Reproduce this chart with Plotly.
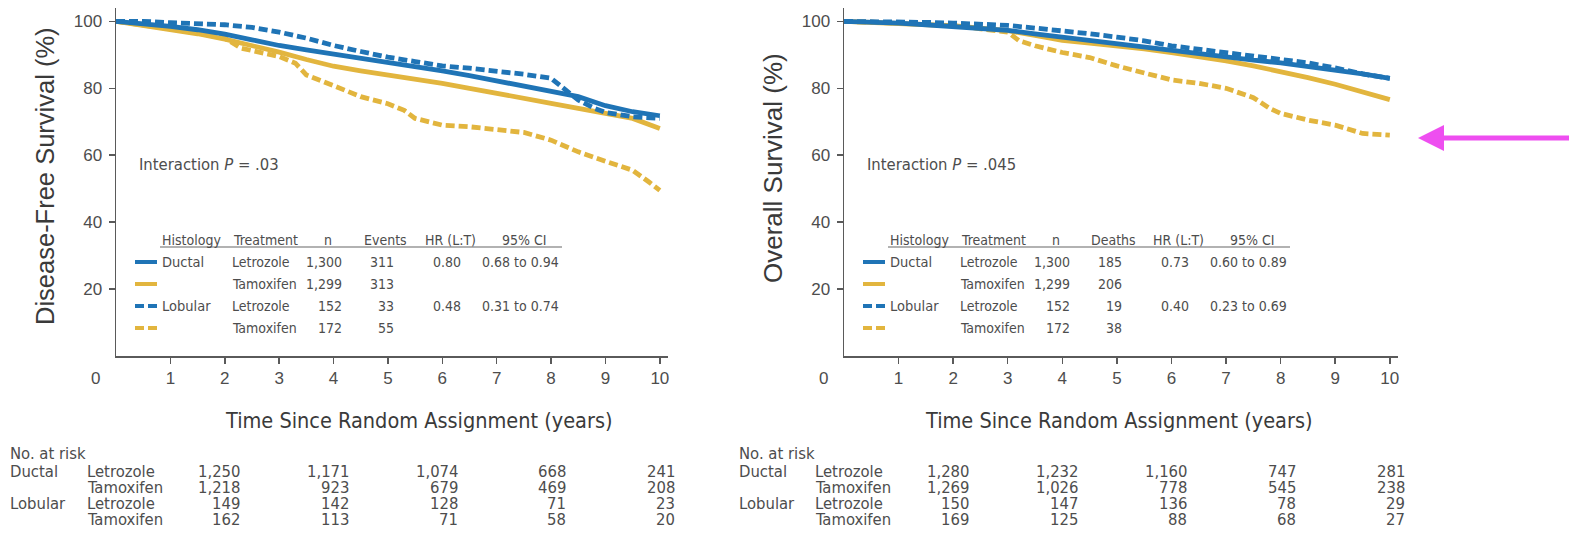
import plotly.graph_objects as go

W, H = 1569, 542
BLUE = "#1f74b6"
GOLD = "#e2b53e"
TXT = "#4d4d4d"
NARROW = "Liberation Sans Narrow, DejaVu Sans Condensed, Arial Narrow, sans-serif"
REG = "Liberation Sans, Arial, Helvetica, sans-serif"

# ---------------- data: Disease-free survival (left) ----------------
grid = [0, 0.5, 1, 1.5, 2, 2.5, 3, 3.5, 4, 4.5, 5, 5.5, 6, 6.5, 7, 7.5, 8, 8.5, 9, 9.5, 10]
dfs_duct_let = [100, 99.3, 98.5, 97.5, 96.2, 94.5, 92.8, 91.5, 90.3, 89, 87.8, 86.5, 85.2, 83.8, 82.3, 80.8, 79.3, 77.5, 74.8, 73, 71.8]
dfs_duct_tam = [100, 98.8, 97.8, 96.3, 94.7, 92.8, 90.8, 88.6, 86.6, 85.2, 84, 82.8, 81.5, 80, 78.6, 77, 75.5, 74, 72.6, 71, 68]
dfs_lob_let_t = [0, 0.5, 1, 1.5, 2, 2.5, 3, 3.5, 4, 4.5, 5, 5.5, 6, 6.5, 7, 7.5, 8, 8.2, 8.5, 8.8, 9, 9.5, 10]
dfs_lob_let = [100, 100, 99.6, 99.3, 99, 98.2, 96.8, 95, 92.8, 91, 89.3, 88, 86.7, 86, 85.2, 84.2, 83, 80.5, 76.5, 74, 72.8, 71.5, 71]
dfs_lob_tam_t = [0, 0.5, 1, 1.5, 2, 2.3, 2.5, 3, 3.3, 3.5, 4, 4.5, 5, 5.3, 5.5, 6, 6.5, 7, 7.5, 8, 8.5, 9, 9.5, 9.8, 10]
dfs_lob_tam = [100, 99, 97.8, 96.5, 95, 92, 91.2, 89.5, 87.5, 84, 80.8, 77.5, 75.4, 73.4, 71, 69, 68.5, 67.8, 66.8, 64.5, 61, 58.2, 55.5, 52, 49.5]

# ---------------- data: Overall survival (right) ----------------
os_duct_let = [100, 99.8, 99.5, 99, 98.5, 98, 97.3, 96.3, 95.3, 94.2, 93.2, 92.2, 91.2, 90.2, 89.2, 88.4, 87.6, 86.6, 85.6, 84.3, 83]
os_duct_tam = [100, 99.7, 99.3, 99, 98.7, 98, 97.2, 95.8, 94.3, 93.5, 92.7, 91.8, 90.7, 89.5, 88.2, 86.7, 85.1, 83.2, 81.2, 79, 76.6]
os_lob_let = [100, 100, 99.8, 99.7, 99.5, 99.2, 98.8, 98, 97.3, 96.3, 95.3, 94.2, 92.7, 91.7, 90.7, 89.7, 88.7, 87.6, 86.1, 84.3, 83]
os_lob_tam_t = [0, 0.5, 1, 1.5, 2, 2.5, 3, 3.2, 3.5, 4, 4.5, 5, 5.5, 6, 6.5, 7, 7.5, 7.8, 8, 8.5, 9, 9.5, 10]
os_lob_tam = [100, 99.8, 99.5, 99.3, 99, 97.8, 96.8, 94.3, 92.7, 90.7, 89.2, 86.7, 84.6, 82.5, 81.5, 80, 77.2, 74, 72.5, 70.5, 69, 66.5, 66]

# ---------------- legend table ----------------
histology = ["Ductal", "", "Lobular", ""]
treatment = ["Letrozole", "Tamoxifen", "Letrozole", "Tamoxifen"]
n_pts = [1300, 1299, 152, 172]
dfs_events = [311, 313, 33, 55]
dfs_hr = ["0.80", "", "0.48", ""]
dfs_ci = ["0.68 to 0.94", "", "0.31 to 0.74", ""]
os_deaths = [185, 206, 19, 38]
os_hr = ["0.73", "", "0.40", ""]
os_ci = ["0.60 to 0.89", "", "0.23 to 0.69", ""]
row_colors = [BLUE, GOLD, BLUE, GOLD]
row_dash = [False, False, True, True]

# ---------------- number at risk ----------------
risk_years = [2, 4, 6, 8, 10]
risk_hist = ["Ductal", "", "Lobular", ""]
dfs_risk = [[1250, 1171, 1074, 668, 241],
            [1218, 923, 679, 469, 208],
            [149, 142, 128, 71, 23],
            [162, 113, 71, 58, 20]]
os_risk = [[1280, 1232, 1160, 747, 281],
           [1269, 1026, 778, 545, 238],
           [150, 147, 136, 78, 29],
           [169, 125, 88, 68, 27]]

x_ticks = list(range(1, 11))
y_ticks = [20, 40, 60, 80, 100]
X_MAX = 10.15


def px(x):
    return x / W


def py(y):
    return 1 - y / H


fig = go.Figure()


def add_curve(t, s, color, dashed, xa, ya):
    fig.add_trace(go.Scatter(
        x=t, y=s, mode="lines", xaxis=xa, yaxis=ya, showlegend=False,
        line=dict(color=color, width=4.8, dash="9px,4px" if dashed else "solid"),
        hoverinfo="skip"))


# draw order: gold behind blue
add_curve(dfs_lob_tam_t, dfs_lob_tam, GOLD, True, "x", "y")
add_curve(grid, dfs_duct_tam, GOLD, False, "x", "y")
add_curve(grid, dfs_duct_let, BLUE, False, "x", "y")
add_curve(dfs_lob_let_t, dfs_lob_let, BLUE, True, "x", "y")

add_curve(os_lob_tam_t, os_lob_tam, GOLD, True, "x2", "y2")
add_curve(grid, os_duct_tam, GOLD, False, "x2", "y2")
add_curve(grid, os_duct_let, BLUE, False, "x2", "y2")
add_curve(grid, os_lob_let, BLUE, True, "x2", "y2")

axis_common = dict(showline=True, linecolor="#5a5a5a", linewidth=1.5, ticks="outside",
                   ticklen=6, tickcolor="#5a5a5a", tickwidth=1.5, showgrid=False,
                   zeroline=False, fixedrange=True,
                   tickfont=dict(family=REG, size=17, color=TXT))
ydom = [py(356), py(8)]
xdom1 = [px(116), px(668)]
xdom2 = [px(844), px(1398)]
fig.update_layout(
    width=W, height=H, margin=dict(l=0, r=0, t=0, b=0),
    paper_bgcolor="white", plot_bgcolor="white", showlegend=False,
    xaxis=dict(domain=xdom1, range=[0, X_MAX], tickvals=x_ticks,
               anchor="y", **axis_common),
    yaxis=dict(domain=ydom, range=[0, 104], tickvals=y_ticks, anchor="x",
               ticklabelstandoff=3, **axis_common),
    xaxis2=dict(domain=xdom2, range=[0, X_MAX], tickvals=x_ticks,
                anchor="y2", **axis_common),
    yaxis2=dict(domain=ydom, range=[0, 104], tickvals=y_ticks, anchor="x2",
                ticklabelstandoff=3, **axis_common),
)

ann = []
shapes = []


def text(x, y, s, size=14, family=NARROW, xanchor="left", color=TXT, angle=0):
    ann.append(dict(x=px(x), y=py(y), xref="paper", yref="paper", text=s, showarrow=False,
                    xanchor=xanchor, yanchor="middle", textangle=angle,
                    font=dict(family=family, size=size, color=color)))


panels = [
    dict(off=0, dom=xdom1, ylab="Disease-Free Survival (%)", p=".03", col="Events",
         ev=dfs_events, hr=dfs_hr, ci=dfs_ci, risk=dfs_risk, xt=419, ylx=45, yly=176, yls=25.5),
    dict(off=728, dom=xdom2, ylab="Overall Survival (%)", p=".045", col="Deaths",
         ev=os_deaths, hr=os_hr, ci=os_ci, risk=os_risk, xt=1119, ylx=773, yly=168, yls=26),
]

for P in panels:
    o = P["off"]
    d0, d1 = P["dom"]
    # axis titles
    text(P["ylx"], P["yly"], P["ylab"], size=P["yls"], family=REG, xanchor="center", color="#3a3a3a", angle=-90)
    text(P["xt"], 420, "Time Since Random Assignment (years)", size=21.5, xanchor="center", color="#3a3a3a")
    text(95 + o, 378, "0", size=17, family=REG, xanchor="center")
    # interaction
    text(137 + o, 164, "Interaction <i>P</i> = " + P["p"], size=16.5)
    # legend table header
    lx = 160 + o
    hy = 240
    text(lx, hy, "Histology", size=14)
    text(231 + o, hy, "Treatment", size=14)
    text(328 + o, hy, "n", size=14, xanchor="center")
    text(385 + o, hy, P["col"], size=14, xanchor="center")
    text(450 + o, hy, "HR (L:T)", size=14, xanchor="center")
    text(524 + o, hy, "95% CI", size=14, xanchor="center")
    shapes.append(dict(type="line", xref="paper", yref="paper", x0=px(160 + o), x1=px(562 + o),
                       y0=py(247), y1=py(247), line=dict(color="#666666", width=1.2)))
    rows_y = [262, 284, 306, 328]
    for i, ry in enumerate(rows_y):
        c = row_colors[i]
        if row_dash[i]:
            for a, b in [(135, 144), (148, 157)]:
                shapes.append(dict(type="line", xref="paper", yref="paper", x0=px(a + o), x1=px(b + o),
                                   y0=py(ry), y1=py(ry), line=dict(color=c, width=4)))
        else:
            shapes.append(dict(type="line", xref="paper", yref="paper", x0=px(135 + o), x1=px(157 + o),
                               y0=py(ry), y1=py(ry), line=dict(color=c, width=4)))
        if histology[i]:
            text(lx, ry, histology[i], size=14.5)
        text(230 + o, ry, treatment[i])
        text(344 + o, ry, f"{n_pts[i]:,}", xanchor="right")
        text(396 + o, ry, f"{P['ev'][i]:,}", xanchor="right")
        if P["hr"][i]:
            text(463 + o, ry, P["hr"][i], xanchor="right")
            text(561 + o, ry, P["ci"][i], xanchor="right")
    # number at risk
    rx = 8 + o + (1 if o else 0)
    RS = 16.5
    text(rx, 453, "No. at risk", size=RS)
    risk_y = [471, 487, 503, 519]
    for i, ry in enumerate(risk_y):
        if risk_hist[i]:
            text(rx, ry, risk_hist[i], size=RS)
        text(85 + o, ry, treatment[i], size=RS)
        for yr, v in zip(risk_years, P["risk"][i]):
            xp = d0 + (yr + 0.32) / X_MAX * (d1 - d0)
            ann.append(dict(x=xp, y=py(ry), xref="paper", yref="paper", text=f"{v:,}",
                            showarrow=False, xanchor="right", yanchor="middle",
                            font=dict(family=NARROW, size=RS, color=TXT)))

# magenta arrow
MAG = "#ee4ef0"
shapes.append(dict(type="line", xref="paper", yref="paper", x0=px(1440), x1=px(1569),
                   y0=py(138), y1=py(138), line=dict(color=MAG, width=5)))
shapes.append(dict(type="path", xref="paper", yref="paper",
                   path=f"M {px(1418)} {py(138)} L {px(1444)} {py(125)} L {px(1444)} {py(151)} Z",
                   fillcolor=MAG, line=dict(color=MAG, width=0)))

fig.update_layout(annotations=ann, shapes=shapes)
fig.write_html("out.html", config={"displayModeBar": False, "staticPlot": True},
               post_script="document.body.style.margin='0';document.body.style.padding='0';"
                           "document.documentElement.style.overflow='hidden';")
